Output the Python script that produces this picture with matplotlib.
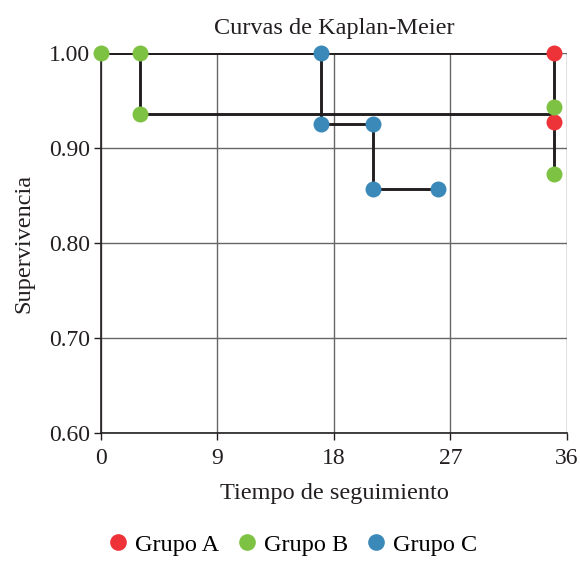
import matplotlib.pyplot as plt
from matplotlib.lines import Line2D

plt.rcParams['font.family'] = ['Liberation Serif', 'DejaVu Serif']

# Step lines of each group (time, survival)
a_line_t = [0, 35, 35]
a_line_s = [1.0, 1.0, 0.927]
b_line_t = [0, 3, 3, 35, 35]
b_line_s = [1.0, 1.0, 0.936, 0.936, 0.873]
c_line_t = [0, 17, 17, 21, 21, 26]
c_line_s = [1.0, 1.0, 0.925, 0.925, 0.857, 0.857]

# Points drawn on the curves
a_pts_t = [35, 35]
a_pts_s = [1.0, 0.927]
b_pts_t = [0, 3, 3, 35, 35]
b_pts_s = [1.0, 1.0, 0.936, 0.943, 0.873]
c_pts_t = [17, 17, 21, 21, 26]
c_pts_s = [1.0, 0.925, 0.925, 0.857, 0.857]

groups = ['Grupo A', 'Grupo B', 'Grupo C']
colors = ['#ee3338', '#7dc242', '#3a89b8']
x_ticks = [0, 9, 18, 27, 36]
y_ticks = [0.60, 0.70, 0.80, 0.90, 1.00]

fig = plt.figure(figsize=(5.8, 5.62), dpi=100)
ax = fig.add_axes([101 / 580, 1 - 433 / 562, 466 / 580, 380 / 562])

line_col = '#231f20'
for t, s in [(a_line_t, a_line_s), (b_line_t, b_line_s), (c_line_t, c_line_s)]:
    ax.plot(t, s, color=line_col, lw=2.1, zorder=3, solid_capstyle='butt')

for t, s, col in [(a_pts_t, a_pts_s, colors[0]), (b_pts_t, b_pts_s, colors[1]),
                  (c_pts_t, c_pts_s, colors[2])]:
    ax.plot(t, s, 'o', color=col, ms=11.5, mew=0, zorder=4, clip_on=False)

ax.set_xlim(0, 36)
ax.set_ylim(0.60, 1.00)
ax.set_xticks(x_ticks)
ax.set_yticks(y_ticks)
ax.set_yticklabels(['%.2f' % v for v in y_ticks])
ax.grid(True, color='#666666', lw=1.0)
ax.set_axisbelow(True)
for side in ['top', 'right']:
    ax.spines[side].set_visible(False)
for side in ['left', 'bottom']:
    ax.spines[side].set_color('#231f20')
    ax.spines[side].set_linewidth(1.2)
ax.tick_params(labelsize=17, length=5, width=1.0, color='#231f20',
               labelcolor='#231f20')
ax.tick_params(axis='x', pad=6)
ax.tick_params(axis='y', pad=3)

ax.set_title('Curvas de Kaplan-Meier', fontsize=17.5, color='#231f20', pad=14)
ax.set_xlabel('Tiempo de seguimiento', fontsize=17.5, color='#231f20', labelpad=10)
ax.set_ylabel('Supervivencia', fontsize=17.5, color='#231f20', labelpad=10)

handles = [Line2D([], [], ls='', marker='o', color=c, ms=12, mew=0) for c in colors]
fig.legend(handles, groups, loc='lower center', ncol=3, frameon=False,
           fontsize=17.5, handletextpad=0.1, columnspacing=0.55,
           handlelength=1.2, bbox_to_anchor=(0.5, -0.028))

fig.savefig('out.png', dpi=100)
